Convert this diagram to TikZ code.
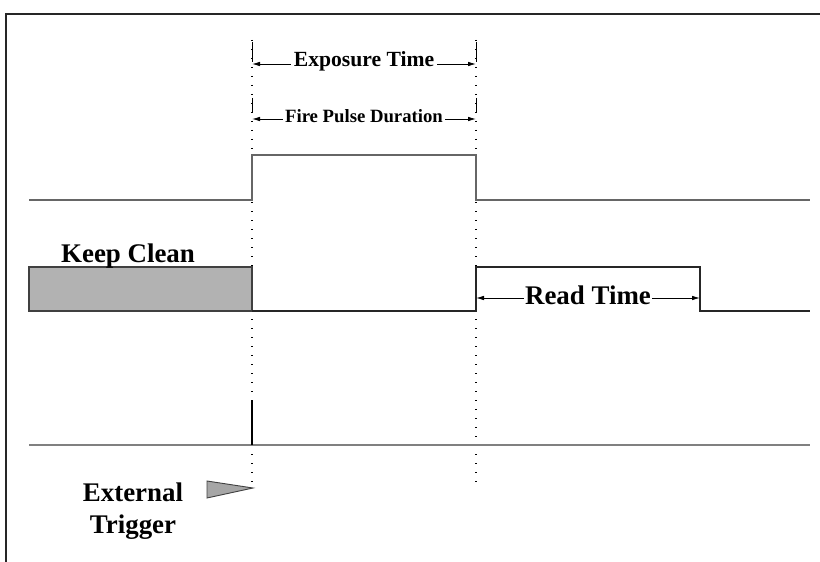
\documentclass[tikz,border=0pt]{standalone}
\usepackage{fontspec}
\setmainfont{Liberation Serif}
\usetikzlibrary{arrows.meta, calc}

\begin{document}
\begin{tikzpicture}[%
    x=1bp, y=-1bp,
    signal/.style={line width=1.3bp},
    marker/.style={line width=1.4bp, dash pattern=on 1.4bp off 7.6bp},
    span/.style={draw, line width=0.8bp,
      {Latex[length=8bp,width=4.5bp]}-{Latex[length=8bp,width=4.5bp]}},
    tag/.style={fill=white, inner sep=2.5bp, yshift=3bp, font=\bfseries},
    bigtag/.style={font=\bfseries\fontsize{27}{32}\selectfont}
  ]
  \useasboundingbox (0,0) rectangle (820,562);

  % frame
  \draw[line width=1.8bp, black!85] (6,562) -- (6,14) -- (820,14);

  % window edges
  \coordinate (A0) at (252,40);
  \coordinate (A1) at (252,490);
  \coordinate (B0) at (476,40);
  \coordinate (B1) at (476,490);
  \draw[marker] (A0) -- (A1);
  \draw[marker] (B0) -- (B1);
  \foreach \x in {252,476} {
    \draw[line width=1bp] (\x,42) -- (\x,62);
    \draw[line width=1bp] (\x,98) -- (\x,113);
  }

  % exposure / fire pulse spans
  \coordinate (e0) at (252,64);
  \coordinate (e1) at (476,64);
  \coordinate (f0) at (252,119);
  \coordinate (f1) at (476,119);
  \draw[span] (e0) -- node[tag, font=\bfseries\fontsize{21.7}{24}\selectfont] (exp) {Exposure Time} (e1);
  \draw[span] (f0) -- node[tag, font=\bfseries\fontsize{18.8}{22}\selectfont] (fire) {Fire Pulse Duration} (f1);

  % fire pulse
  \draw[signal, black!60] (29,200) -- (252,200) -- (252,155) -- (476,155)
      -- (476,200) -- (810,200);

  % keep clean / read out
  \draw[line width=1.3bp, black!75, fill=black!30] (29,267) rectangle (252,311);
  \node[bigtag, anchor=base] (keep) at (128,263) {Keep Clean};
  \draw[signal, black!85] (252,311) -- (476,311) -- (476,267) -- (700,267)
      -- (700,311) -- (810,311);
  \coordinate (r0) at (476,298);
  \coordinate (r1) at (700,298);
  \draw[span] (r0) -- node[tag, bigtag, inner sep=1.5bp] (read) {Read Time} (r1);

  % trigger
  \draw[line width=1.6bp, black!50] (29,445) -- (810,445);
  \draw[line width=2.6bp] (252,400) -- (252,445);
  \draw[line width=0.9bp, black!75, fill=black!35] (207,481) -- (207,498) -- (253,488) -- cycle;
  \node[bigtag, align=center] (trig) at (133,511) {External\\Trigger};
\end{tikzpicture}
\end{document}
